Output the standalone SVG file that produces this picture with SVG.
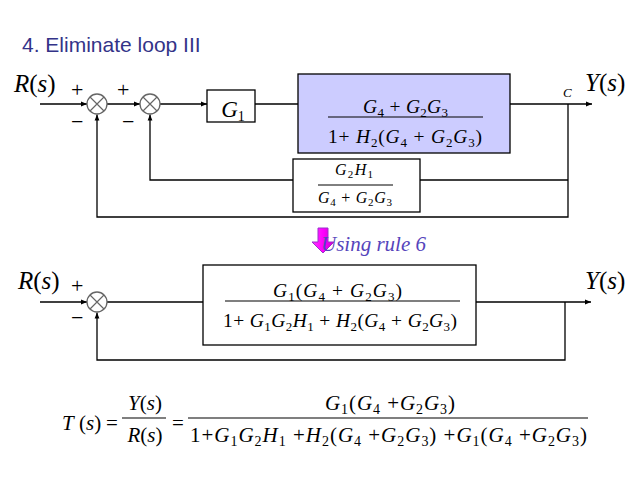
<svg xmlns="http://www.w3.org/2000/svg" width="638" height="479" viewBox="0 0 638 479">
<defs>
<style>
.ln{fill:none;stroke:#000;stroke-width:1.3}
.bx{fill:#fff;stroke:#000;stroke-width:1.3}
.sj{fill:#fff;stroke:#666;stroke-width:1.3}
.sx{stroke:#666;stroke-width:1.2}
.m{font-family:"Liberation Serif","Times New Roman",serif;fill:#000}
.i{font-style:italic}
.t{font-family:"Liberation Sans",Arial,sans-serif;font-size:21px;fill:#333388}
.sg{font-family:"Liberation Serif","Times New Roman",serif;font-size:22px;fill:#000}
</style>
<marker id="ar" viewBox="0 0 10 10" refX="10" refY="5" markerWidth="6" markerHeight="6" orient="auto" markerUnits="userSpaceOnUse"><path d="M0,1 L10,5 L0,9 z" fill="#000"/></marker>
<linearGradient id="mg" x1="0" y1="0" x2="1" y2="0"><stop offset="0" stop-color="#ff33ff"/><stop offset="0.5" stop-color="#ff00ff"/><stop offset="1" stop-color="#cc00cc"/></linearGradient>
</defs>
<rect width="638" height="479" fill="#fff"/>
<text class="t" x="22" y="52">4. Eliminate loop III</text>

<g id="connectors">
<line class="ln" x1="40" y1="104" x2="87" y2="104" marker-end="url(#ar)"/>
<line class="ln" x1="107" y1="104" x2="140" y2="104" marker-end="url(#ar)"/>
<line class="ln" x1="160" y1="104" x2="207" y2="104" marker-end="url(#ar)"/>
<line class="ln" x1="255" y1="104" x2="298" y2="104"/>
<line class="ln" x1="510" y1="104" x2="592" y2="104" marker-end="url(#ar)"/>
<polyline class="ln" points="568,104 568,217 97,217 97,114.5" marker-end="url(#ar)"/>
<line class="ln" x1="568" y1="180" x2="420" y2="180"/>
<polyline class="ln" points="293,180 150,180 150,114.5" marker-end="url(#ar)"/>
<line class="ln" x1="40" y1="302" x2="87" y2="302" marker-end="url(#ar)"/>
<line class="ln" x1="107" y1="302" x2="203" y2="302"/>
<line class="ln" x1="476" y1="302" x2="591" y2="302" marker-end="url(#ar)"/>
<polyline class="ln" points="565,302 565,360 97,360 97,312.5" marker-end="url(#ar)"/>
</g>

<g id="labels-top">
<text class="m" font-size="25" x="14" y="92"><tspan class="i">R</tspan>(<tspan class="i">s</tspan>)</text>
<text class="sg" x="71" y="97">+</text>
<text class="sg" x="117" y="97">+</text>
<text class="sg" x="71" y="129">−</text>
<text class="sg" x="122" y="129">−</text>
<text class="m i" font-size="13" x="563" y="97">C</text>
<text class="m" font-size="25" x="585" y="91"><tspan class="i">Y</tspan>(<tspan class="i">s</tspan>)</text>
</g>

<g id="sum1"><circle class="sj" cx="97" cy="104" r="10"/><path class="sx" d="M90,97 L104,111 M104,97 L90,111"/></g>
<g id="sum2"><circle class="sj" cx="150" cy="104" r="10"/><path class="sx" d="M143,97 L157,111 M157,97 L143,111"/></g>

<g id="G1">
<rect class="bx" x="207" y="90" width="48" height="32"/>
<text class="m" font-size="23" x="233" y="117" text-anchor="middle"><tspan class="i">G</tspan><tspan font-size="14" dy="4">1</tspan></text>
</g>

<g id="forward">
<rect x="298" y="74" width="212" height="79" fill="#ccccff" stroke="#000" stroke-width="1.3"/>
<text class="m" font-size="19.5" x="405.5" y="113" text-anchor="middle" textLength="85"><tspan class="i">G</tspan><tspan font-size="13" dy="4">4</tspan><tspan dy="-4"> + </tspan><tspan class="i">G</tspan><tspan font-size="13" dy="4">2</tspan><tspan class="i" dy="-4">G</tspan><tspan font-size="13" dy="4">3</tspan></text>
<line x1="328" y1="117" x2="483" y2="117" stroke="#000" stroke-width="1.2"/>
<text class="m" font-size="19.5" x="405" y="143" text-anchor="middle" textLength="154">1+ <tspan class="i">H</tspan><tspan font-size="13" dy="4">2</tspan><tspan dy="-4">(</tspan><tspan class="i">G</tspan><tspan font-size="13" dy="4">4</tspan><tspan dy="-4"> + </tspan><tspan class="i">G</tspan><tspan font-size="13" dy="4">2</tspan><tspan class="i" dy="-4">G</tspan><tspan font-size="13" dy="4">3</tspan><tspan dy="-4">)</tspan></text>
</g>

<g id="feedback">
<rect class="bx" x="293" y="159" width="127" height="53"/>
<text class="m" font-size="16" x="354" y="175" text-anchor="middle" textLength="38"><tspan class="i">G</tspan><tspan font-size="11" dy="3">2</tspan><tspan class="i" dy="-3">H</tspan><tspan font-size="11" dy="3">1</tspan></text>
<line x1="318" y1="185" x2="393" y2="185" stroke="#000" stroke-width="1"/>
<text class="m" font-size="16" x="355" y="203" text-anchor="middle" textLength="74"><tspan class="i">G</tspan><tspan font-size="11" dy="3">4</tspan><tspan dy="-3"> + </tspan><tspan class="i">G</tspan><tspan font-size="11" dy="3">2</tspan><tspan class="i" dy="-3">G</tspan><tspan font-size="11" dy="3">3</tspan></text>
</g>

<g id="rule-arrow">
<polygon points="318,228 328,228 328,242 334,242 323,253 312,242 318,242" fill="url(#mg)" stroke="#9933cc" stroke-width="1"/>
<text class="m i" font-size="21" x="321" y="251" style="fill:#5544bb">Using rule 6</text>
</g>

<g id="labels-bottom">
<text class="m" font-size="25" x="18" y="289"><tspan class="i">R</tspan>(<tspan class="i">s</tspan>)</text>
<text class="sg" x="71" y="293">+</text>
<text class="sg" x="71" y="325">−</text>
<text class="m" font-size="25" x="585" y="289"><tspan class="i">Y</tspan>(<tspan class="i">s</tspan>)</text>
</g>

<g id="sum3"><circle class="sj" cx="97" cy="302" r="10"/><path class="sx" d="M90,295 L104,309 M104,295 L90,309"/></g>

<g id="closed">
<rect class="bx" x="203" y="265" width="273" height="80"/>
<text class="m" font-size="19.5" x="337.5" y="297" text-anchor="middle" textLength="129"><tspan class="i">G</tspan><tspan font-size="13" dy="4">1</tspan><tspan dy="-4">(</tspan><tspan class="i">G</tspan><tspan font-size="13" dy="4">4</tspan><tspan dy="-4"> + </tspan><tspan class="i">G</tspan><tspan font-size="13" dy="4">2</tspan><tspan class="i" dy="-4">G</tspan><tspan font-size="13" dy="4">3</tspan><tspan dy="-4">)</tspan></text>
<line x1="225" y1="301" x2="460" y2="301" stroke="#000" stroke-width="1.2"/>
<text class="m" font-size="19.5" x="340" y="327" text-anchor="middle" textLength="234">1+ <tspan class="i">G</tspan><tspan font-size="13" dy="4">1</tspan><tspan class="i" dy="-4">G</tspan><tspan font-size="13" dy="4">2</tspan><tspan class="i" dy="-4">H</tspan><tspan font-size="13" dy="4">1</tspan><tspan dy="-4"> + </tspan><tspan class="i">H</tspan><tspan font-size="13" dy="4">2</tspan><tspan dy="-4">(</tspan><tspan class="i">G</tspan><tspan font-size="13" dy="4">4</tspan><tspan dy="-4"> + </tspan><tspan class="i">G</tspan><tspan font-size="13" dy="4">2</tspan><tspan class="i" dy="-4">G</tspan><tspan font-size="13" dy="4">3</tspan><tspan dy="-4">)</tspan></text>
</g>

<g id="transfer">
<text class="m" font-size="21" x="62" y="430"><tspan class="i">T</tspan> (<tspan class="i">s</tspan>)</text>
<text class="m" font-size="21" x="106" y="430">=</text>
<text class="m" font-size="21" x="145" y="410" text-anchor="middle"><tspan class="i">Y</tspan>(<tspan class="i">s</tspan>)</text>
<line x1="122" y1="418" x2="166" y2="418" stroke="#000" stroke-width="1.2"/>
<text class="m" font-size="21" x="145" y="442" text-anchor="middle"><tspan class="i">R</tspan>(<tspan class="i">s</tspan>)</text>
<text class="m" font-size="21" x="172" y="430">=</text>
<text class="m" font-size="21" x="390" y="410" text-anchor="middle" textLength="130"><tspan class="i">G</tspan><tspan font-size="14" dy="4">1</tspan><tspan dy="-4">(</tspan><tspan class="i">G</tspan><tspan font-size="14" dy="4">4</tspan><tspan dy="-4"> +</tspan><tspan class="i">G</tspan><tspan font-size="14" dy="4">2</tspan><tspan class="i" dy="-4">G</tspan><tspan font-size="14" dy="4">3</tspan><tspan dy="-4">)</tspan></text>
<line x1="188" y1="418" x2="588" y2="418" stroke="#000" stroke-width="1.2"/>
<text class="m" font-size="21" x="388.5" y="442" text-anchor="middle" textLength="397">1+<tspan class="i">G</tspan><tspan font-size="14" dy="4">1</tspan><tspan class="i" dy="-4">G</tspan><tspan font-size="14" dy="4">2</tspan><tspan class="i" dy="-4">H</tspan><tspan font-size="14" dy="4">1</tspan><tspan dy="-4"> +</tspan><tspan class="i">H</tspan><tspan font-size="14" dy="4">2</tspan><tspan dy="-4">(</tspan><tspan class="i">G</tspan><tspan font-size="14" dy="4">4</tspan><tspan dy="-4"> +</tspan><tspan class="i">G</tspan><tspan font-size="14" dy="4">2</tspan><tspan class="i" dy="-4">G</tspan><tspan font-size="14" dy="4">3</tspan><tspan dy="-4">) +</tspan><tspan class="i">G</tspan><tspan font-size="14" dy="4">1</tspan><tspan dy="-4">(</tspan><tspan class="i">G</tspan><tspan font-size="14" dy="4">4</tspan><tspan dy="-4"> +</tspan><tspan class="i">G</tspan><tspan font-size="14" dy="4">2</tspan><tspan class="i" dy="-4">G</tspan><tspan font-size="14" dy="4">3</tspan><tspan dy="-4">)</tspan></text>
</g>
</svg>
